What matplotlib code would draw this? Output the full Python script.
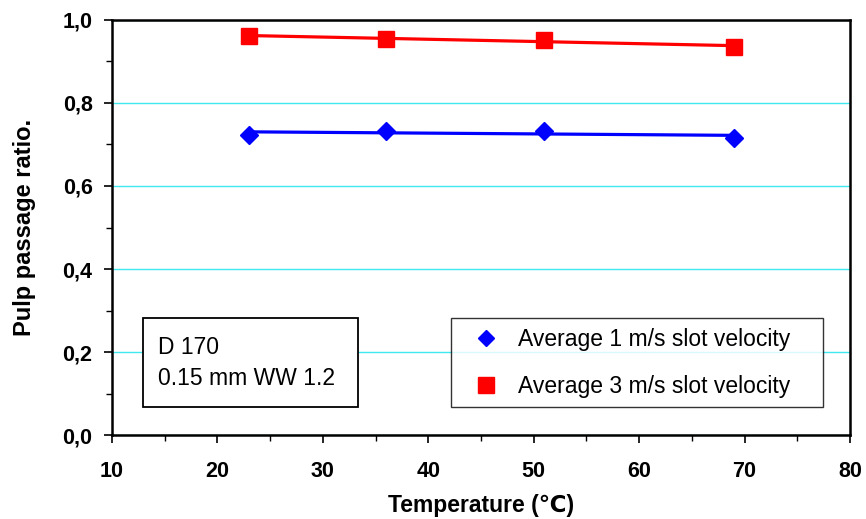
import matplotlib
matplotlib.use('Agg')
import matplotlib.pyplot as plt
from matplotlib.lines import Line2D
from matplotlib.patches import Rectangle
from matplotlib.ticker import MultipleLocator, FuncFormatter
import numpy as np

plt.rcParams['font.family'] = ['Liberation Sans', 'DejaVu Sans']

temperature = [23, 36, 51, 69]
ratio_1ms = [0.724, 0.733, 0.733, 0.716]
ratio_3ms = [0.962, 0.954, 0.952, 0.936]
labels = ['Average 1 m/s slot velocity', 'Average 3 m/s slot velocity']
note_lines = ['D 170', '0.15 mm WW 1.2']

fig = plt.figure(figsize=(8.66, 5.19), dpi=100)
ax = fig.add_axes([0.1293, 0.1618, 0.8522, 0.7997])

series = [(ratio_1ms, 'blue', 'D', 9.5), (ratio_3ms, 'red', 's', 11)]
for vals, col, mk, ms in series:
    # linear trend line between first and last temperature
    k, b = np.polyfit(temperature, vals, 1)
    xs = np.array([temperature[0], temperature[-1]])
    ax.plot(xs, k * xs + b, color=col, lw=2.3, zorder=3)
    ax.plot(temperature, vals, ls='none', marker=mk, ms=ms, color=col, zorder=4)

ax.set_xlim(10, 80)
ax.set_ylim(0, 1.0)
ax.xaxis.set_major_locator(MultipleLocator(10))
ax.xaxis.set_minor_locator(MultipleLocator(5))
ax.yaxis.set_major_locator(MultipleLocator(0.2))
ax.yaxis.set_minor_locator(MultipleLocator(0.1))
ax.yaxis.set_major_formatter(FuncFormatter(lambda v, p: f'{v:.1f}'.replace('.', ',')))
ax.grid(axis='y', which='major', color='#40e8f0', lw=1.0)
ax.set_axisbelow(True)

for s in ax.spines.values():
    s.set_linewidth(1.8)
    s.set_color('black')
ax.tick_params(which='major', direction='out', length=6, width=1.2, labelsize=15.5)
ax.tick_params(axis='x', which='major', pad=13)
ax.tick_params(axis='y', which='major', pad=8)
ax.tick_params(which='minor', direction='out', length=4, width=1.0)
for t in ax.get_xticklabels() + ax.get_yticklabels():
    t.set_fontweight('bold')

ax.set_xlabel('Temperature (\u2103)', fontsize=16.5, fontweight='bold', labelpad=8)
ax.set_ylabel('Pulp passage ratio.', fontsize=17, fontweight='bold', labelpad=19)

handles = [Line2D([], [], ls='none', marker='D', ms=8, color='blue'),
           Line2D([], [], ls='none', marker='s', ms=11, color='red')]
leg = ax.legend(handles, labels, loc='lower left', bbox_to_anchor=(0.459, 0.068, 0.504, 0.214),
                mode='expand', frameon=True, fancybox=False, edgecolor='black', fontsize=16.5,
                labelspacing=1.05, handlelength=2.3, handletextpad=0.25, borderpad=0.4,
                borderaxespad=0)
leg.get_frame().set_linewidth(1.0)

# text box with the screen details
ax.add_patch(Rectangle((0.042, 0.0675), 0.291, 0.2145, transform=ax.transAxes,
                       fc='white', ec='black', lw=1.3, zorder=5))
for i, line in enumerate(note_lines):
    ax.text(0.0623, 0.212 - i * 0.075, line, transform=ax.transAxes, fontsize=16.5,
            va='center', ha='left', zorder=6)

fig.savefig('out.png', dpi=100)
